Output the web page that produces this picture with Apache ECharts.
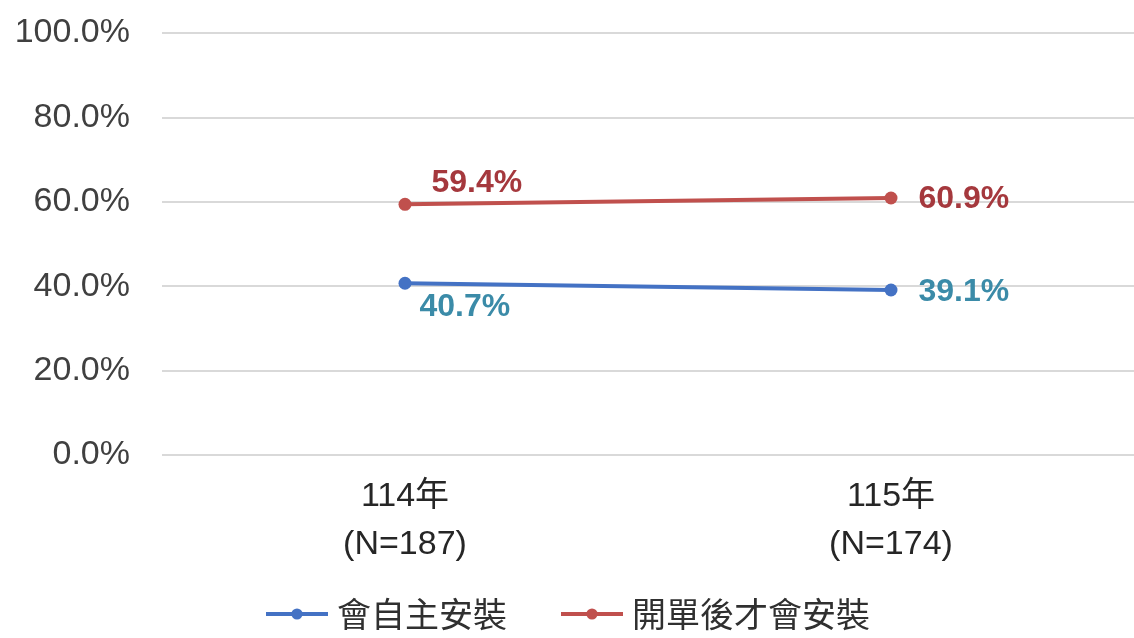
<!DOCTYPE html>
<html><head><meta charset="utf-8">
<script src="https://cdn.jsdelivr.net/npm/echarts@6/dist/echarts.min.js"></script>
<style>html,body{margin:0;padding:0;background:#fff}#c{width:1134px;height:638px}</style>
</head><body><div id="c"></div>
<script>
const categories = ['114年\n(N=187)', '115年\n(N=174)'];
const seriesNames = ['會自主安裝', '開單後才會安裝'];
const selfInstall = [40.7, 39.1];
const afterTicket = [59.4, 60.9];
const yTicks = [0, 20, 40, 60, 80, 100];

const blueLabel = [
  {position: 'right', offset: [3, 24]},
  {position: 'right', offset: [16, 2]}
];
const redLabel = [
  {position: 'right', offset: [15, -21]},
  {position: 'right', offset: [16, 1]}
];
function build(vals, cfgs, color) {
  return vals.map((v, i) => ({value: v, label: Object.assign({show: true, color: color}, cfgs[i])}));
}
const chart = echarts.init(document.getElementById('c'), null, {renderer: 'canvas'});
chart.setOption({
  backgroundColor: '#fff',
  animation: false,
  textStyle: {fontFamily: 'Liberation Sans, Arial, Noto Sans CJK TC, sans-serif'},
  grid: {left: 162, right: 0, top: 33, bottom: 183, containLabel: false},
  xAxis: {
    type: 'category', data: categories, boundaryGap: true,
    axisLine: {show: false}, axisTick: {show: false},
    axisLabel: {fontSize: 34, lineHeight: 48, color: '#262626', margin: 18,
      fontFamily: 'Liberation Sans, Noto Sans CJK TC, sans-serif'}
  },
  yAxis: {
    type: 'value', min: yTicks[0], max: yTicks[yTicks.length - 1], interval: 20,
    axisLine: {show: false}, axisTick: {show: false},
    splitLine: {lineStyle: {color: '#D9D9D9', width: 2}},
    axisLabel: {fontSize: 34, color: '#404040', margin: 32,
      formatter: v => v.toFixed(1) + '%'}
  },
  legend: {
    bottom: 2, left: 'center', itemWidth: 62, itemHeight: 14, itemGap: 52,
    lineStyle: {width: 4},
    textStyle: {fontSize: 34, color: '#303030', fontFamily: 'Noto Sans CJK TC, sans-serif', padding: [0, 0, 0, 4]},
    data: seriesNames
  },
  series: [
    {
      name: seriesNames[0], type: 'line', data: build(selfInstall, blueLabel, '#3B8BA8'),
      symbol: 'circle', symbolSize: 13,
      lineStyle: {color: '#4472C4', width: 4}, itemStyle: {color: '#4472C4'},
      label: {fontSize: 32, fontWeight: 'bold', formatter: p => p.value.toFixed(1) + '%'}
    },
    {
      name: seriesNames[1], type: 'line', data: build(afterTicket, redLabel, '#A5383D'),
      symbol: 'circle', symbolSize: 13,
      lineStyle: {color: '#C0504D', width: 4}, itemStyle: {color: '#C0504D'},
      label: {fontSize: 32, fontWeight: 'bold', formatter: p => p.value.toFixed(1) + '%'}
    }
  ]
});
</script></body></html>
